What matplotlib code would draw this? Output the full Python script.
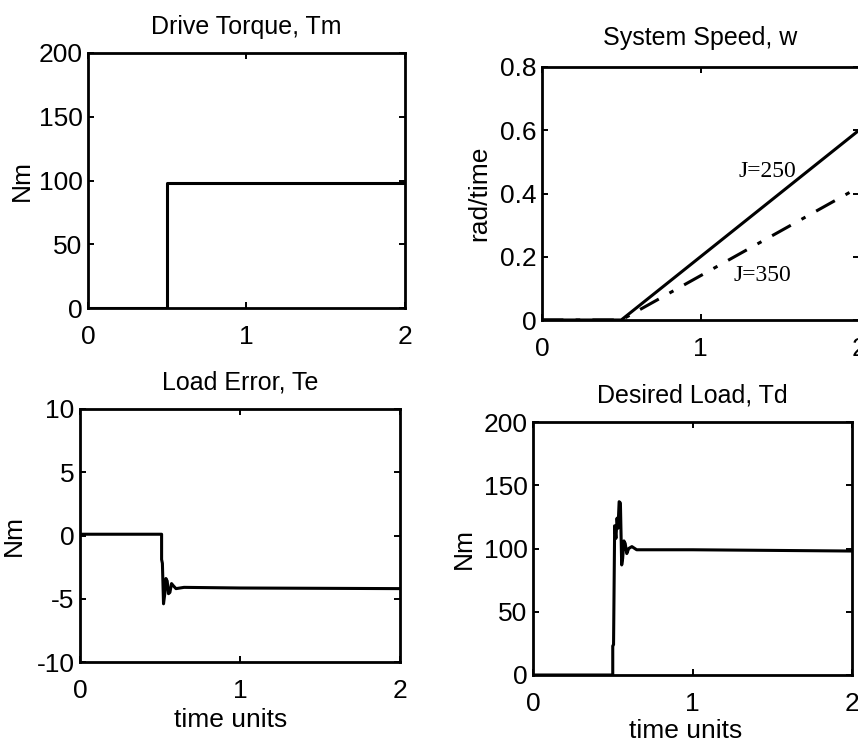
import matplotlib
matplotlib.use("Agg")
import matplotlib.pyplot as plt

# ---- data ----
t_tm = [0.0, 0.5, 0.5, 2.0]
tm = [0.0, 0.0, 98.0, 98.0]

t_w = [0.0, 0.5, 1.0, 1.5, 2.0]
w_j250 = [0.0, 0.0, 0.20, 0.40, 0.60]
w_j350 = [0.0, 0.0, 0.14, 0.28, 0.42]

t_te = [0.0, 0.51, 0.51, 0.515, 0.522, 0.53, 0.537, 0.545, 0.553, 0.562, 0.572, 0.585, 0.60, 0.65, 1.0, 2.0]
te = [0.1, 0.1, -1.9, -2.2, -5.4, -4.6, -3.4, -3.6, -4.6, -4.5, -3.8, -4.0, -4.2, -4.1, -4.15, -4.2]

t_td = [0.0, 0.5, 0.5, 0.505, 0.512, 0.52, 0.527, 0.533, 0.54, 0.548, 0.556, 0.562, 0.57, 0.578, 0.588, 0.60, 0.62, 0.65, 1.0, 2.0]
td = [0.0, 0.0, 23.0, 24.0, 118.0, 108.0, 124.0, 116.0, 137.0, 136.0, 87.0, 92.0, 106.0, 104.0, 96.0, 100.0, 101.5, 99.0, 99.0, 98.0]

xticks = [0, 1, 2]
xticklabels = ["0", "1", "2"]

W, H = 858, 745
fig = plt.figure(figsize=(W / 100, H / 100), dpi=100)

TICKFONT = dict(family="Liberation Sans", size=19)
TITLEFONT = dict(family="Liberation Sans", size=18)
LABELFONT = dict(family="Liberation Sans", size=19)


def make_ax(l, r, t, b):
    ax = fig.add_axes([l / W, 1 - b / H, (r - l) / W, (b - t) / H])
    for s in ax.spines.values():
        s.set_linewidth(2.0)
    ax.tick_params(direction="in", top=True, right=True, length=4, width=1.4)
    ax.tick_params(axis="y", pad=4)
    ax.tick_params(axis="x", pad=12)
    ax.set_xlim(0, 2)
    ax.set_xticks(xticks)
    ax.set_xticklabels(xticklabels, **TICKFONT)
    return ax


def set_yticks(ax, ticks, labels):
    ax.set_yticks(ticks)
    ax.set_yticklabels(labels, **TICKFONT)


lw = 2.2

# Top-left
ax1 = make_ax(88, 405, 53, 308)
ax1.plot(t_tm, tm, color="black", lw=lw)
ax1.set_ylim(0, 200)
set_yticks(ax1, [0, 50, 100, 150, 200], ["0", "50", "100", "150", "200"])
ax1.set_title("Drive Torque, Tm", pad=14, **TITLEFONT)
ax1.set_ylabel("Nm", **LABELFONT)
ax1.yaxis.set_label_coords(-0.172, 0.5)

# Top-right
ax2 = make_ax(542, 859, 67, 320)
ax2.plot(t_w, w_j250, color="black", lw=lw)
ax2.plot(t_w, w_j350, color="black", lw=lw, linestyle=(0, (7, 4, 1.5, 4)))
ax2.set_ylim(0, 0.8)
set_yticks(ax2, [0, 0.2, 0.4, 0.6, 0.8], ["0", "0.2", "0.4", "0.6", "0.8"])
ax2.set_title("System Speed, w", pad=16, **TITLEFONT)
ax2.set_ylabel("rad/time", **LABELFONT)
ax2.yaxis.set_label_coords(-0.16, 0.5)
ax2.text(1.42, 0.47, "J=250", family="Liberation Serif", size=17, ha="center", va="center")
ax2.text(1.39, 0.14, "J=350", family="Liberation Serif", size=17, ha="center", va="center")

# Bottom-left
ax3 = make_ax(80, 400, 409, 662)
ax3.plot(t_te, te, color="black", lw=lw)
ax3.set_ylim(-10, 10)
set_yticks(ax3, [-10, -5, 0, 5, 10], ["-10", "-5", "0", "5", "10"])
ax3.set_title("Load Error, Te", pad=14, **TITLEFONT)
ax3.set_ylabel("Nm", **LABELFONT)
ax3.yaxis.set_label_coords(-0.17, 0.5)
ax3.set_xlabel("time units", **LABELFONT)
ax3.xaxis.set_label_coords(0.472, -0.18)

# Bottom-right
ax4 = make_ax(533, 852, 422, 675)
ax4.plot(t_td, td, color="black", lw=lw)
ax4.set_ylim(0, 200)
set_yticks(ax4, [0, 50, 100, 150, 200], ["0", "50", "100", "150", "200"])
ax4.set_title("Desired Load, Td", pad=14, **TITLEFONT)
ax4.set_ylabel("Nm", **LABELFONT)
ax4.yaxis.set_label_coords(-0.18, 0.5)
ax4.set_xlabel("time units", **LABELFONT)
ax4.xaxis.set_label_coords(0.48, -0.175)

fig.savefig("out.png", dpi=100)
